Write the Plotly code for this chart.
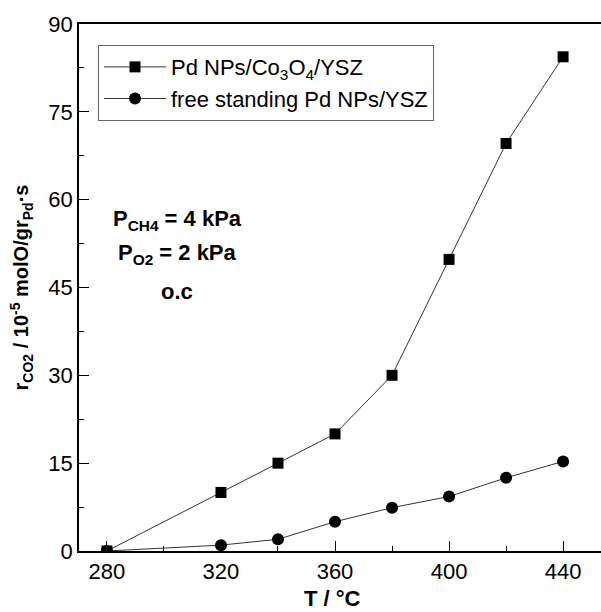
import plotly.graph_objects as go

T = [280, 320, 340, 360, 380, 400, 420, 440]
r_co3o4 = [0, 10, 15, 20, 30, 49.8, 69.6, 84.4]
r_free = [0, 1, 2, 5, 7.4, 9.3, 12.5, 15.3]
names = ["Pd NPs/Co<sub>3</sub>O<sub>4</sub>/YSZ", "free standing Pd NPs/YSZ"]

fig = go.Figure()
fig.add_trace(go.Scatter(x=T, y=r_free, mode="lines+markers", name=names[1],
                         line=dict(color="#333333", width=1),
                         marker=dict(symbol="circle", size=12, color="black")))
fig.add_trace(go.Scatter(x=T, y=r_co3o4, mode="lines+markers", name=names[0],
                         line=dict(color="#333333", width=1),
                         marker=dict(symbol="square", size=11, color="black")))

fig.update_layout(
    width=601, height=612,
    margin=dict(l=79, r=0, t=24, b=61),
    paper_bgcolor="white", plot_bgcolor="white",
    font=dict(family="Liberation Sans, Arial, sans-serif", color="black"),
    showlegend=True,
    legend=dict(x=0.0364, y=0.96, xanchor="left", yanchor="top",
                bordercolor="#666666", borderwidth=1, bgcolor="white",
                font=dict(size=22), traceorder="reversed",
                itemwidth=62, tracegroupgap=2),
    xaxis=dict(range=[270.2, 453.3], tickvals=[280, 320, 360, 400, 440],
               ticks="inside", ticklen=10, tickcolor="black",
               showline=True, linecolor="black", linewidth=1.5, mirror=True,
               showgrid=False, zeroline=False, automargin=False,
               tickfont=dict(size=22),
               minor=dict(tickvals=[300, 340, 380, 420], ticks="inside", ticklen=5, tickcolor="black")),
    yaxis=dict(range=[0, 90], tickvals=[0, 15, 30, 45, 60, 75, 90],
               ticks="inside", ticklen=10, tickcolor="black",
               showline=True, linecolor="black", linewidth=1.5, mirror=False,
               showgrid=False, zeroline=False, automargin=False,
               tickfont=dict(size=22),
               minor=dict(dtick=7.5, ticks="inside", ticklen=5, tickcolor="black"),
               title=dict(text="<b>r<sub>CO2</sub> / 10<sup>-5</sup> molO/gr<sub>Pd</sub>·s</b>",
                          font=dict(size=20), standoff=14)),
)

fig.add_annotation(text="<b>T / °C</b>", x=0.485, y=0, xref="paper", yref="paper",
                   showarrow=False, font=dict(size=22), xanchor="center", yanchor="middle",
                   yshift=-47)

ann = [("<b>P<sub>CH4</sub> = 4 kPa</b>", 0.628), ("<b>P<sub>O2</sub> = 2 kPa</b>", 0.563), ("<b>o.c</b>", 0.493)]
for txt, yy in ann:
    fig.add_annotation(text=txt, x=0.188, y=yy, xref="paper", yref="paper",
                       showarrow=False, font=dict(size=22), xanchor="center", yanchor="middle")

fig.write_html("out.html", config={"displayModeBar": False},
               post_script="document.body.style.margin='0';document.body.style.overflow='hidden';")
